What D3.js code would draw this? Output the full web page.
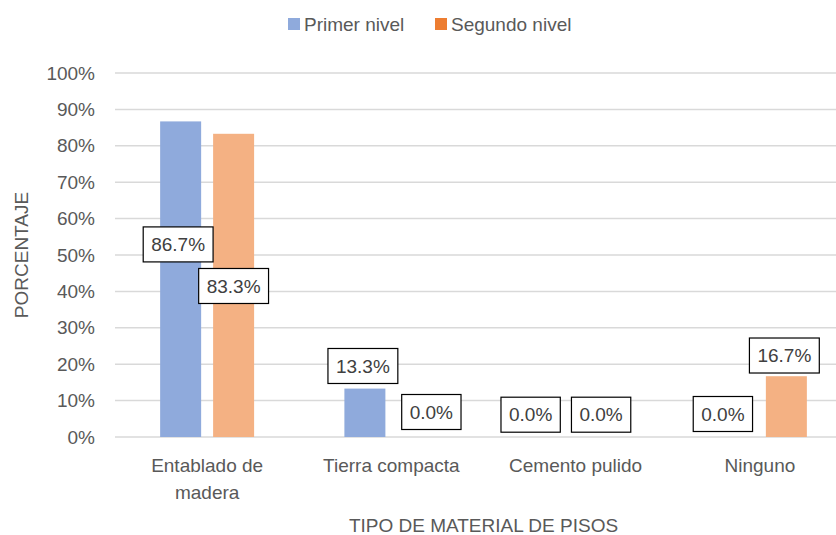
<!DOCTYPE html>
<meta charset="utf-8">
<style>
  body { margin: 0; background: #fff; }
  text { font-family: "Liberation Sans", Arial, sans-serif; }
</style>
<body>
<script src="https://cdn.jsdelivr.net/npm/d3@7"></script>
<script>
  // data
  var categories = ["Entablado de madera", "Tierra compacta", "Cemento pulido", "Ninguno"];
  var seriesNames = ["Primer nivel", "Segundo nivel"];
  var primerNivel = [86.7, 13.3, 0.0, 0.0];
  var segundoNivel = [83.3, 0.0, 0.0, 16.7];
  var yTicks = [0, 10, 20, 30, 40, 50, 60, 70, 80, 90, 100];

  var barColors = ["#8FAADC", "#F4B183"];
  var legendColors = ["#8FAADC", "#ED7D31"];

  // hand placed data labels (dx, dy from top centre of bar), as dragged in the original
  var labelShift = [
    [[-2.5, 123], [-2, -22.6], [-18.5, -22.3], [-10.5, -23]],
    [[0, 152.2], [13.5, -25], [-1, -22.3], [-2, -20.7]]
  ];

  var width = 836, height = 535;
  var plotLeft = 115, plotRight = 852, plotTop = 73, plotBottom = 437;

  var svg = d3.select("body").append("svg")
    .attr("width", width)
    .attr("height", height);

  var x0 = d3.scaleBand()
    .domain(categories)
    .range([plotLeft, plotRight])
    .paddingInner(0.49)
    .paddingOuter(0.245);

  var x1 = d3.scaleBand()
    .domain(seriesNames)
    .range([0, x0.bandwidth()])
    .paddingInner(0.226);

  var y = d3.scaleLinear()
    .domain([0, 100])
    .range([plotBottom, plotTop]);

  // gridlines
  svg.append("g")
    .selectAll("line")
    .data(yTicks)
    .enter()
    .append("line")
    .attr("x1", plotLeft)
    .attr("x2", plotRight)
    .attr("y1", function(d) { return y(d); })
    .attr("y2", function(d) { return y(d); })
    .style("stroke", "#D9D9D9")
    .style("stroke-width", 1.5);

  // y axis labels
  var yAxis = svg.append("g")
    .attr("transform", "translate(" + (plotLeft - 4) + ",0)")
    .call(d3.axisLeft(y).tickValues(yTicks).tickSize(0).tickPadding(16)
      .tickFormat(function(d) { return d + "%"; }));
  yAxis.select(".domain").remove();
  yAxis.selectAll("text")
    .style("font-family", "Liberation Sans, Arial, sans-serif")
    .style("font-size", "19px")
    .style("fill", "#595959");

  // x axis labels
  var xAxis = svg.append("g")
    .attr("transform", "translate(0," + plotBottom + ")")
    .call(d3.axisBottom(x0).tickSize(0).tickPadding(22));
  xAxis.select(".domain").remove();
  xAxis.selectAll("text")
    .style("font-family", "Liberation Sans, Arial, sans-serif")
    .style("font-size", "19px")
    .style("fill", "#595959")
    .call(wrap, 160);

  function wrap(texts, w) {
    texts.each(function() {
      var text = d3.select(this),
        words = text.text().split(/\s+/),
        line = [],
        lineNo = 0,
        yy = text.attr("y"),
        dy = parseFloat(text.attr("dy")) || 0,
        tspan = text.text(null).append("tspan").attr("x", 0).attr("y", yy).attr("dy", dy + "em");
      words.forEach(function(word) {
        line.push(word);
        tspan.text(line.join(" "));
        if (tspan.node().getComputedTextLength() > w && line.length > 1) {
          line.pop();
          tspan.text(line.join(" "));
          line = [word];
          lineNo++;
          tspan = text.append("tspan").attr("x", 0).attr("y", yy)
            .attr("dy", (lineNo * 1.4 + dy) + "em").text(word);
        }
      });
    });
  }

  // bars
  var series = [primerNivel, segundoNivel];
  series.forEach(function(values, s) {
    svg.append("g")
      .selectAll("rect")
      .data(values)
      .enter()
      .append("rect")
      .attr("x", function(d, i) { return x0(categories[i]) + x1(seriesNames[s]); })
      .attr("y", function(d) { return y(d); })
      .attr("width", x1.bandwidth())
      .attr("height", function(d) { return y(0) - y(d); })
      .style("fill", barColors[s]);
  });

  // data labels
  series.forEach(function(values, s) {
    var lab = svg.append("g")
      .selectAll("g")
      .data(values)
      .enter()
      .append("g")
      .attr("transform", function(d, i) {
        var cx = x0(categories[i]) + x1(seriesNames[s]) + x1.bandwidth() / 2 + labelShift[s][i][0];
        var cy = y(d) + labelShift[s][i][1];
        return "translate(" + cx + "," + cy + ")";
      });
    lab.append("text")
      .attr("text-anchor", "middle")
      .attr("dy", "0.35em")
      .style("font-size", "19px")
      .style("fill", "#404040")
      .text(function(d) { return d.toFixed(1) + "%"; });
    lab.insert("rect", "text")
      .each(function() {
        var w = this.nextSibling.getComputedTextLength() + 16;
        d3.select(this)
          .attr("x", -w / 2)
          .attr("y", -17.5)
          .attr("width", w)
          .attr("height", 35);
      })
      .style("fill", "#fff")
      .style("stroke", "#000")
      .style("stroke-width", 1.2);
  });

  // axis titles
  svg.append("text")
    .attr("transform", "translate(28," + ((plotTop + plotBottom) / 2) + ") rotate(-90)")
    .attr("text-anchor", "middle")
    .style("font-size", "19px")
    .style("fill", "#595959")
    .text("PORCENTAJE");

  svg.append("text")
    .attr("x", (plotLeft + plotRight) / 2)
    .attr("y", 532)
    .attr("text-anchor", "middle")
    .style("font-size", "19px")
    .style("fill", "#595959")
    .text("TIPO DE MATERIAL DE PISOS");

  // legend
  var legendX = [288, 435];
  var legend = svg.append("g")
    .selectAll("g")
    .data(seriesNames)
    .enter()
    .append("g")
    .attr("transform", function(d, i) { return "translate(" + legendX[i] + ",24)"; });
  legend.append("rect")
    .attr("x", 0)
    .attr("y", -6)
    .attr("width", 12)
    .attr("height", 12)
    .style("fill", function(d, i) { return legendColors[i]; });
  legend.append("text")
    .attr("x", 16)
    .attr("dy", "0.35em")
    .style("font-size", "19px")
    .style("fill", "#595959")
    .text(function(d) { return d; });
</script>
</body>
